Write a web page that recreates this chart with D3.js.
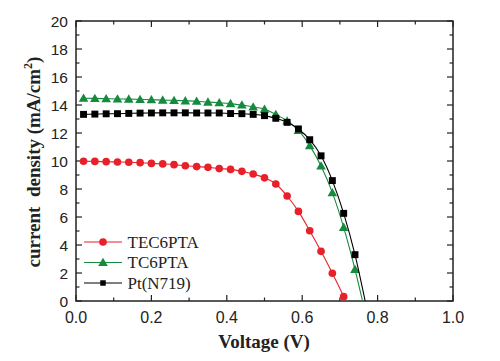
<!DOCTYPE html>
<html>
<head>
<meta charset="utf-8">
<script src="https://cdn.jsdelivr.net/npm/d3@7/dist/d3.min.js"></script>
<style>
  body { margin: 0; background: #fff; }
</style>
</head>
<body>
<div id="graph"></div>
<script>
// voltage for each marker (V)
var voltage = [0.02, 0.05, 0.08, 0.11, 0.14, 0.17, 0.20, 0.23, 0.26, 0.29, 0.32, 0.35,
	0.38, 0.41, 0.44, 0.47, 0.50, 0.53, 0.56, 0.59, 0.62, 0.65, 0.68, 0.71, 0.74];

// current density (mA/cm2)
var tec6pta = [9.98, 9.97, 9.95, 9.93, 9.91, 9.88, 9.83, 9.79, 9.74, 9.66, 9.60, 9.55,
	9.46, 9.40, 9.26, 9.07, 8.80, 8.36, 7.50, 6.40, 5.02, 3.55, 1.98, 0.31];
var tc6pta = [14.48, 14.47, 14.45, 14.43, 14.42, 14.40, 14.38, 14.35, 14.33, 14.30, 14.27, 14.21,
	14.16, 14.10, 14.00, 13.86, 13.70, 13.33, 12.86, 12.19, 11.10, 9.64, 7.74, 5.26, 2.26];
var ptN719 = [13.33, 13.35, 13.37, 13.38, 13.40, 13.42, 13.43, 13.44, 13.44, 13.44, 13.43, 13.43,
	13.43, 13.39, 13.38, 13.33, 13.24, 13.05, 12.76, 12.29, 11.52, 10.37, 8.60, 6.26, 3.31];

// open-circuit voltage where each fitted curve meets the x axis
var vocList = [0.715, 0.760, 0.767];

var seriesNames = ["TEC6PTA", "TC6PTA", "Pt(N719)"];
var xTicks = [0, 0.2, 0.4, 0.6, 0.8, 1.0];
var yTicks = [0, 2, 4, 6, 8, 10, 12, 14, 16, 18, 20];

var w = 500, h = 361;
var padL = 76, padR = 453, padT = 21, padB = 301;

var xScale = d3.scaleLinear().domain([0, 1]).range([padL, padR]);
var yScale = d3.scaleLinear().domain([0, 20]).range([padB, padT]);

var colors = ["#e8202a", "#168a3e", "#000000"];
var shapes = [d3.symbolCircle, d3.symbolTriangle, d3.symbolSquare];
var sizes = [46, 40, 48];

var svg = d3.select("#graph")
	.append("svg")
	.attr("width", w)
	.attr("height", h);

// frame
svg.append("rect")
	.attr("x", padL)
	.attr("y", padT)
	.attr("width", padR - padL)
	.attr("height", padB - padT)
	.attr("fill", "none")
	.attr("stroke", "#222")
	.attr("stroke-width", 1.5);

// ticks, all pointing inward
var xMinor = d3.range(0, 1.0001, 0.1);
var yMinor = d3.range(0, 20.001, 1);
var tickG = svg.append("g").attr("stroke", "#222").attr("stroke-width", 1.2);

xMinor.forEach(function (v, i) {
	var len = (i % 2 == 0) ? 6 : 3.5;
	tickG.append("line").attr("x1", xScale(v)).attr("x2", xScale(v))
		.attr("y1", padB).attr("y2", padB - len);
	tickG.append("line").attr("x1", xScale(v)).attr("x2", xScale(v))
		.attr("y1", padT).attr("y2", padT + len);
});
yMinor.forEach(function (v, i) {
	var len = (i % 2 == 0) ? 6 : 3.5;
	tickG.append("line").attr("y1", yScale(v)).attr("y2", yScale(v))
		.attr("x1", padL).attr("x2", padL + len);
	tickG.append("line").attr("y1", yScale(v)).attr("y2", yScale(v))
		.attr("x1", padR).attr("x2", padR - len);
});

// tick labels
svg.selectAll("text.xlab")
	.data(xTicks)
	.enter().append("text")
	.attr("class", "xlab")
	.attr("x", function (d) { return xScale(d); })
	.attr("y", 323)
	.attr("text-anchor", "middle")
	.attr("font-family", "Liberation Sans, Arial, sans-serif")
	.attr("font-size", 16)
	.attr("fill", "#222")
	.text(function (d) { return d.toFixed(1); });

svg.selectAll("text.ylab")
	.data(yTicks)
	.enter().append("text")
	.attr("class", "ylab")
	.attr("x", 68)
	.attr("y", function (d) { return yScale(d) + 5.5; })
	.attr("text-anchor", "end")
	.attr("font-family", "Liberation Sans, Arial, sans-serif")
	.attr("font-size", 15.5)
	.attr("fill", "#222")
	.text(function (d) { return d; });

// axis titles
svg.append("text")
	.attr("x", 264)
	.attr("y", 348)
	.attr("text-anchor", "middle")
	.attr("font-family", "Liberation Serif, Times New Roman, serif")
	.attr("font-weight", "bold")
	.attr("font-size", 19)
	.attr("fill", "#222")
	.text("Voltage (V)");

var yTitle = svg.append("text")
	.attr("transform", "translate(40,162) rotate(-90)")
	.attr("text-anchor", "middle")
	.attr("font-family", "Liberation Serif, Times New Roman, serif")
	.attr("font-weight", "bold")
	.attr("font-size", 19)
	.style("white-space", "pre")
	.attr("fill", "#222");
yTitle.append("tspan").text("current  density (mA/cm");
yTitle.append("tspan").attr("font-size", 12).attr("dy", -8).text("2");
yTitle.append("tspan").attr("dy", 8).text(")");

// curves and markers
var allSeries = [tec6pta, tc6pta, ptN719];

var line = d3.line()
	.x(function (d) { return xScale(d.x); })
	.y(function (d) { return yScale(d.y); })
	.curve(d3.curveMonotoneX);

var plot = svg.append("g").attr("id", "curves");

allSeries.forEach(function (vals, s) {
	var pts = vals.map(function (v, i) { return {x: voltage[i], y: v}; });
	var linePts = pts.concat([{x: vocList[s], y: 0}]);

	plot.append("path")
		.datum(linePts)
		.attr("fill", "none")
		.attr("stroke", colors[s])
		.attr("stroke-width", 1.1)
		.attr("d", line);

	plot.selectAll("path.m" + s)
		.data(pts)
		.enter().append("path")
		.attr("class", "m" + s)
		.attr("transform", function (d) {
			var dy = (s == 1) ? 0.8 : 0;
			return "translate(" + xScale(d.x) + "," + (yScale(d.y) + dy) + ")";
		})
		.attr("d", d3.symbol().type(shapes[s]).size(sizes[s]))
		.attr("fill", colors[s]);
});

// legend
var legend = svg.append("g").attr("id", "legend");
seriesNames.forEach(function (name, s) {
	var ly = 242 + s * 20.5;
	legend.append("line")
		.attr("x1", 84).attr("x2", 122)
		.attr("y1", ly).attr("y2", ly)
		.attr("stroke", colors[s])
		.attr("stroke-width", 1.1);
	legend.append("path")
		.attr("transform", "translate(103," + (ly + (s == 1 ? 0.8 : 0)) + ")")
		.attr("d", d3.symbol().type(shapes[s]).size(s == 2 ? 30 : sizes[s]))
		.attr("fill", colors[s]);
	legend.append("text")
		.attr("x", 127.5)
		.attr("y", ly + 5.5)
		.attr("font-family", "Liberation Serif, Times New Roman, serif")
		.attr("font-size", 17)
		.attr("fill", "#222")
		.text(name);
});
</script>
</body>
</html>
